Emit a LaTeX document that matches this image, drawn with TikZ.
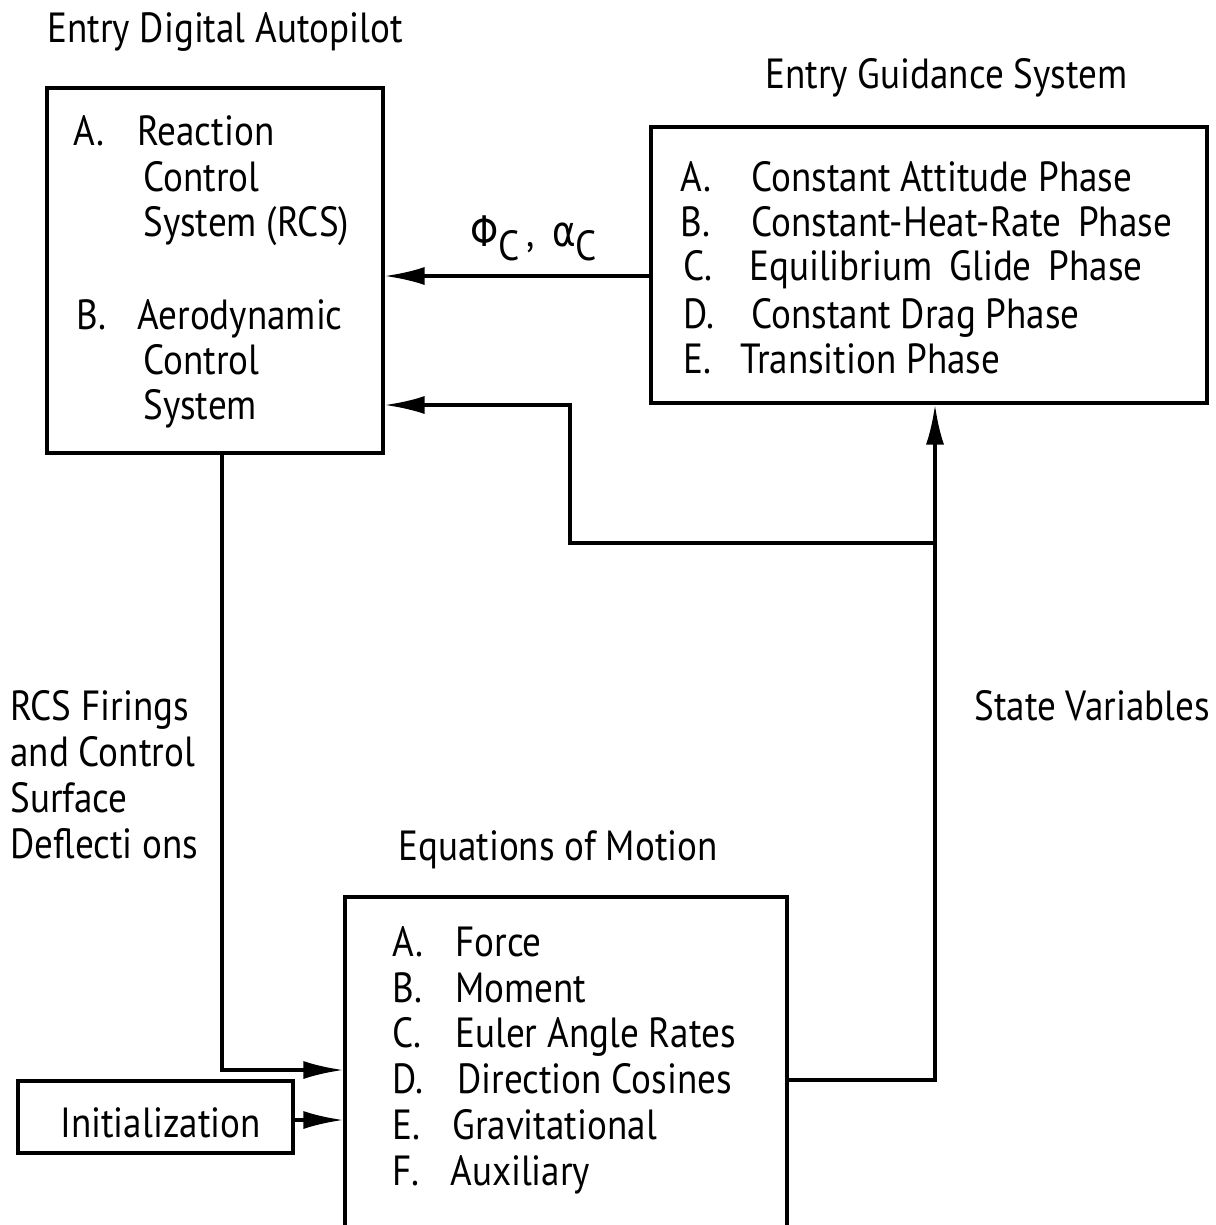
\documentclass[tikz,border=0pt]{standalone}
\usepackage{fontspec}
\setmainfont{PT Sans}[FakeStretch=0.88]
\newfontfamily\grk{DejaVu Sans}[FakeStretch=0.85]
\usetikzlibrary{arrows.meta}
\begin{document}
\begin{tikzpicture}[x=0.02cm,y=-0.02cm,
  box/.style={draw,line width=1.8pt,rectangle,inner sep=0pt},
  txt/.style={anchor=base west,inner sep=0pt,font=\fontsize{24}{28}\selectfont},
  wire/.style={line width=2pt},
  arr/.style={line width=2pt,-{Latex[length=8mm,width=3.6mm]}}]
\useasboundingbox (0,0) rectangle (1216,1225);
% boxes
\node[box,minimum width=336*0.02cm,minimum height=365*0.02cm] (dap) at (215,270.5) {};
\node[box,minimum width=556*0.02cm,minimum height=276*0.02cm] (guid) at (929,265) {};
\node[box,minimum width=442*0.02cm,minimum height=340*0.02cm] (eom) at (566,1067) {};
\node[box,minimum width=275*0.02cm,minimum height=72*0.02cm] (init) at (155.5,1117) {};
% titles
\node[txt] (t1) at (47,42) {Entry Digital Autopilot};
\node[txt] (t2) at (765,88) {Entry Guidance System};
\node[txt] (t3) at (398,860) {Equations of Motion};
\node[txt] (t4) at (974,720) {State Variables};
\node[txt] (r1) at (10,720) {RCS Firings};
\node[txt] (r2) at (10,766) {and Control};
\node[txt] (r3) at (10,812) {Surface};
\node[txt] (r4) at (10,858) {Deflecti ons};
% left box text
\node[txt] (la) at (73,145) {A.};
\node[txt] (la1) at (137,145) {Reaction};
\node[txt] (la2) at (143,191) {Control};
\node[txt] (la3) at (143,236) {System (RCS)};
\node[txt] (lb) at (76,329) {B.};
\node[txt] (lb1) at (137,329) {Aerodynamic};
\node[txt] (lb2) at (143,374) {Control};
\node[txt] (lb3) at (143,419) {System};
% right box text
\node[txt] (ga) at (680,191) {A.};
\node[txt] (ga1) at (751,191) {Constant Attitude Phase};
\node[txt] (gb) at (680,236) {B.};
\node[txt] (gb1) at (751,236) {Constant-Heat-Rate\, Phase};
\node[txt] (gc) at (683,280) {C.};
\node[txt] (gc1) at (749,280) {Equilibrium\, Glide\, Phase};
\node[txt] (gd) at (683,328) {D.};
\node[txt] (gd1) at (751,328) {Constant Drag Phase};
\node[txt] (ge) at (683,373) {E.};
\node[txt] (ge1) at (740,373) {Transition Phase};
% bottom box text
\node[txt] (ea) at (392,956) {A.};
\node[txt] (ea1) at (455,956) {Force};
\node[txt] (eb) at (392,1002) {B.};
\node[txt] (eb1) at (455,1002) {Moment};
\node[txt] (ec) at (392,1047) {C.};
\node[txt] (ec1) at (455,1047) {Euler Angle Rates};
\node[txt] (ed) at (392,1093) {D.};
\node[txt] (ed1) at (457,1093) {Direction Cosines};
\node[txt] (ee) at (392,1139) {E.};
\node[txt] (ee1) at (452,1139) {Gravitational};
\node[txt] (ef) at (392,1185) {F.};
\node[txt] (ef1) at (450,1185) {Auxiliary};
\node[txt] (itxt) at (60,1137) {Initialization};
% phi alpha label
\node[txt] (phi) at (470,246) {{\grk Φ}\raisebox{-0.35em}{C}\,,\, {\grk α}\raisebox{-0.35em}{C}};
% connector coordinates
\coordinate (c1) at (651,276);
\coordinate (j1) at (935,543);
\coordinate (j2) at (570,543);
\coordinate (j3) at (570,405);
\coordinate (b1) at (787,1080);
\coordinate (b2) at (935,1080);
\coordinate (l1) at (222,1070);
\coordinate (i1) at (345,1120);
% connectors
\draw[arr] (c1) -- (dap.east |- c1);
\draw[arr] (b1) -- (b2) -- (guid.south -| b2);
\draw[arr] (j1) -- (j2) -- (j3) -- (dap.east |- j3);
\draw[arr] (dap.south -| l1) -- (l1) -- (eom.west |- l1);
\draw[arr] (init.east |- i1) -- (eom.west |- i1);
\end{tikzpicture}
\end{document}
